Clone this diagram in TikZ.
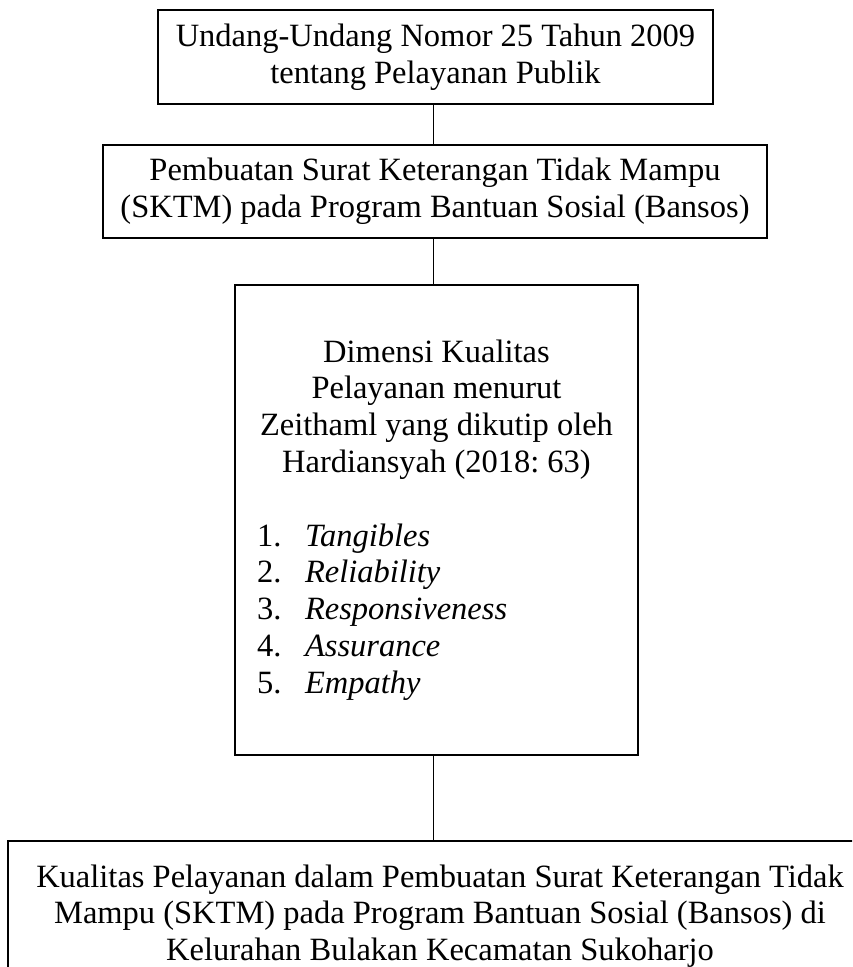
\documentclass[tikz,border=0pt]{standalone}
\usepackage{fontspec}
\setmainfont{Liberation Serif}
\frenchspacing
\begin{document}
\begin{tikzpicture}[x=1pt,y=-1pt,
  every node/.style={font=\fontsize{32.5}{36.8}\selectfont},
  box/.style={draw, line width=2pt, inner sep=0pt, align=center},
  conn/.style={draw, line width=1pt}]
\useasboundingbox (0,0) rectangle (852,967);
\clip (0,0) rectangle (852,967);
\node[box, minimum width=555pt, minimum height=94pt] (b1) at (435.5,57)
  {Undang-Undang Nomor 25 Tahun 2009\\tentang Pelayanan Publik};
\node[box, minimum width=664pt, minimum height=93pt] (b2) at (435,191.5)
  {Pembuatan Surat Keterangan Tidak Mampu\\(SKTM) pada Program Bantuan Sosial (Bansos)};
\node[box, minimum width=403pt, minimum height=470pt] (b3) at (436.5,520)
  {\begin{minipage}{359pt}
   {\centering Dimensi Kualitas\\Pelayanan menurut\\Zeithaml yang dikutip oleh\\Hardiansyah (2018: 63)\par}
   \vspace{36.8pt}
   \raggedright
   \makebox[48pt][l]{1.}\textit{Tangibles}\\
   \makebox[48pt][l]{2.}\textit{Reliability}\\
   \makebox[48pt][l]{3.}\textit{Responsiveness}\\
   \makebox[48pt][l]{4.}\textit{Assurance}\\
   \makebox[48pt][l]{5.}\textit{Empathy}\par
   \end{minipage}};
\node[box, anchor=north, minimum width=864pt, minimum height=150pt] (b4) at (440,840)
  {Kualitas Pelayanan dalam Pembuatan Surat Keterangan Tidak\\Mampu (SKTM) pada Program Bantuan Sosial (Bansos) di\\Kelurahan Bulakan Kecamatan Sukoharjo};
\coordinate (cx) at (433.5,0);
\draw[conn] (b1.south -| cx) -- (b2.north -| cx);
\draw[conn] (b2.south -| cx) -- (b3.north -| cx);
\draw[conn] (b3.south -| cx) -- (b4.north -| cx);
\end{tikzpicture}
\end{document}
